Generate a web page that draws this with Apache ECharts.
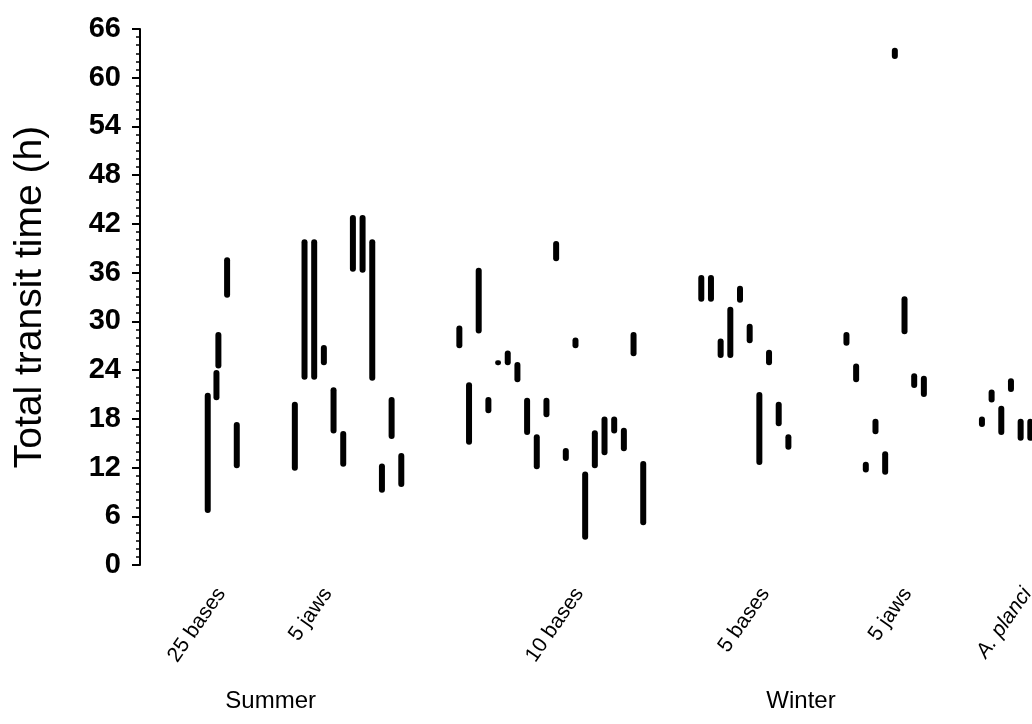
<!DOCTYPE html>
<html>
<head>
<meta charset="utf-8">
<script src="https://cdn.jsdelivr.net/npm/echarts@6/dist/echarts.min.js"></script>
<style>
html,body{margin:0;padding:0;background:#fff;}
#chart{width:1032px;height:724px;}
</style>
</head>
<body>
<div id="chart"></div>
<script>
// Each entry: [sample slot along x, lower bound (h), upper bound (h)]
const summer25Bases = [[7, 6.4, 21.2], [7.9, 20.3, 24.0], [8.1, 24.2, 28.7], [9, 32.9, 37.9], [10, 11.9, 17.6]];
const summer5Jaws = [[16, 11.6, 20.1], [17, 22.8, 40.1], [18, 22.8, 40.1], [19, 24.6, 27.1], [20, 16.2, 21.9], [21, 12.1, 16.5], [22, 36.1, 43.1], [23, 36.0, 43.1], [24, 22.7, 40.1], [25, 8.9, 12.5], [26, 15.5, 20.7], [27, 9.6, 13.8]];
const summer10Bases = [[33, 26.7, 29.5], [34, 14.8, 22.5], [35, 28.5, 36.6], [36, 18.7, 20.7], [37, 24.6, 25.2], [38, 24.6, 26.4], [39, 22.5, 25.0], [40, 16.0, 20.6], [41, 11.8, 16.1], [42, 18.2, 20.6], [43, 37.4, 39.9], [44, 12.8, 14.4], [45, 26.7, 28.0], [46, 3.1, 11.5], [47, 11.9, 16.6], [48, 13.5, 18.3], [49, 16.2, 18.3], [50, 14.0, 16.9], [51, 25.7, 28.7], [52, 4.9, 12.8]];
const winter5Bases = [[58, 32.4, 35.7], [59, 32.4, 35.7], [60, 25.5, 27.9], [61, 25.5, 31.8], [62, 32.3, 34.4], [63, 27.3, 29.7], [64, 12.3, 21.3], [65, 24.6, 26.5], [66, 17.1, 20.1], [67, 14.2, 16.1]];
const winter5Jaws = [[73, 27.0, 28.7], [74, 22.5, 24.8], [75, 11.4, 12.7], [76, 16.1, 18.0], [77, 11.1, 14.0], [78, 62.3, 63.7], [79, 28.4, 33.1], [80, 21.8, 23.6], [81, 20.7, 23.3]];
const aPlanci = [[87, 17.0, 18.3], [88, 20.0, 21.6], [89, 16.0, 19.6], [90, 21.3, 23.0], [91, 15.3, 18.0], [92, 15.3, 18.0]];

const groupLabels = ['25 bases', '5 jaws', '10 bases', '5 bases', '5 jaws', 'A. planci'];
const groupLabelSlots = [8.4, 19.4, 45.4, 64.6, 79.3, 91.7];
const seasonLabels = ['Summer', 'Winter'];
const seasonLabelSlots = [13.5, 68.3];
const yTicks = {min: 0, max: 66, interval: 6};
const xRange = {min: 0, max: 93};

const chart = echarts.init(document.getElementById('chart'), null, {renderer: 'canvas'});

function renderRange(params, api) {
  const x = api.value(0), lo = api.value(1), hi = api.value(2);
  const top = api.coord([x, hi]);
  const bot = api.coord([x, lo]);
  const w = 6;
  const h = Math.max(bot[1] - top[1], 4);
  return {
    type: 'rect',
    shape: {x: top[0] - w / 2, y: top[1], width: w, height: h, r: w / 2},
    style: {fill: '#000'}
  };
}

const groups = [summer25Bases, summer5Jaws, summer10Bases, winter5Bases, winter5Jaws, aPlanci];
const FONT = 'Liberation Sans, Arial, sans-serif';

const option = {
  animation: false,
  backgroundColor: '#fff',
  grid: {left: 140, top: 29, bottom: 159, right: -8, containLabel: false, outerBoundsMode: 'none'},
  xAxis: [
    {
      type: 'value', min: xRange.min, max: xRange.max,
      axisLine: {show: false}, axisTick: {show: false}, splitLine: {show: false},
      axisLabel: {
        customValues: groupLabelSlots, hideOverlap: false,
        rotate: 55, margin: 25,
        fontFamily: FONT, fontSize: 21, color: '#000',
        formatter: function (v) {
          const i = groupLabelSlots.indexOf(v);
          return i >= 0 ? (groupLabels[i] === 'A. planci' ? '{it|' + groupLabels[i] + '}' : groupLabels[i]) : '';
        },
        rich: {it: {fontStyle: 'italic', fontFamily: FONT, fontSize: 21, color: '#000'}}
      }
    },
    {
      type: 'value', min: xRange.min, max: xRange.max, position: 'bottom',
      axisLine: {show: false}, axisTick: {show: false}, splitLine: {show: false},
      axisLabel: {
        customValues: seasonLabelSlots,
        margin: 124,
        fontFamily: FONT, fontSize: 24, color: '#000',
        formatter: function (v) {
          const i = seasonLabelSlots.indexOf(v);
          return i >= 0 ? seasonLabels[i] : '';
        }
      }
    }
  ],
  yAxis: {
    type: 'value', min: yTicks.min, max: yTicks.max, interval: yTicks.interval,
    name: 'Total transit time (h)', nameLocation: 'middle', nameGap: 90,
    nameTextStyle: {fontFamily: FONT, fontSize: 39, color: '#000'},
    axisLine: {show: true, lineStyle: {color: '#000', width: 2}},
    axisTick: {show: true, length: 8, lineStyle: {color: '#000', width: 2}},
    minorTick: {show: true, splitNumber: 6, length: 4, lineStyle: {color: '#000', width: 1.5}},
    splitLine: {show: false},
    axisLabel: {margin: 19, fontFamily: FONT, fontSize: 29, fontWeight: 'bold', color: '#000'}
  },
  series: groups.map(function (g) {
    return {
      type: 'custom', xAxisIndex: 0, yAxisIndex: 0,
      renderItem: renderRange, clip: false,
      encode: {x: 0, y: [1, 2]},
      data: g
    };
  })
};
chart.setOption(option);
</script>
</body>
</html>
